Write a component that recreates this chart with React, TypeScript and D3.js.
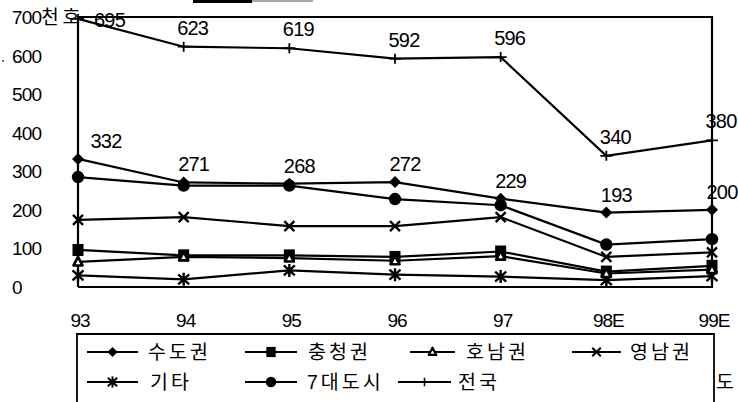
import React from "react";
import * as d3 from "d3";

// Housing supply by region, thousand units
const years = ["93", "94", "95", "96", "97", "98E", "99E"];
const capital = [332, 271, 268, 272, 229, 193, 200]; // 수도권
const chungcheong = [96, 82, 82, 78, 92, 40, 55]; // 충청권
const honam = [65, 78, 75, 68, 80, 35, 45]; // 호남권
const yeongnam = [174, 181, 158, 158, 181, 78, 90]; // 영남권
const others = [30, 20, 43, 32, 27, 18, 28]; // 기타
const sevenCities = [285, 263, 263, 228, 212, 110, 124]; // 7대도시
const nationwide = [695, 623, 619, 592, 596, 340, 380]; // 전국
const yTicks = [0, 100, 200, 300, 400, 500, 600, 700];

type MarkerKind = "diamond" | "square" | "triangle" | "times" | "asterisk" | "circle" | "plus";

interface Series {
  name: string;
  values: number[];
  marker: MarkerKind;
}

const series: Series[] = [
  { name: "전국", values: nationwide, marker: "plus" },
  { name: "기타", values: others, marker: "asterisk" },
  { name: "영남권", values: yeongnam, marker: "times" },
  { name: "7대도시", values: sevenCities, marker: "circle" },
  { name: "충청권", values: chungcheong, marker: "square" },
  { name: "호남권", values: honam, marker: "triangle" },
  { name: "수도권", values: capital, marker: "diamond" },
];

const legendRows: { name: string; marker: MarkerKind; x0: number; x1: number; tx: number }[][] = [
  [
    { name: "수도권", marker: "diamond", x0: 87, x1: 138, tx: 148 },
    { name: "충청권", marker: "square", x0: 245, x1: 297, tx: 308 },
    { name: "호남권", marker: "triangle", x0: 410, x1: 455, tx: 466 },
    { name: "영남권", marker: "times", x0: 572, x1: 621, tx: 630 },
  ],
  [
    { name: "기타", marker: "asterisk", x0: 87, x1: 138, tx: 150 },
    { name: "7대도시", marker: "circle", x0: 245, x1: 297, tx: 307 },
    { name: "전국", marker: "plus", x0: 398, x1: 451, tx: 458 },
  ],
];

const FONT = "'Liberation Sans', Arial, 'Noto Sans CJK KR', sans-serif";

function Marker({ kind, x, y, scale = 1 }: { kind: MarkerKind; x: number; y: number; scale?: number }) {
  const t = `translate(${x},${y}) scale(${scale})`;
  switch (kind) {
    case "diamond":
      return <path transform={t} d="M0,-6L6,0L0,6L-6,0Z" fill="#000" />;
    case "square":
      return <rect transform={t} x={-5.5} y={-6} width={11} height={12} fill="#000" />;
    case "triangle":
      return (
        <path transform={t} d="M0,-5L4.5,3.5L-4.5,3.5Z" fill="#fff" stroke="#000" strokeWidth={2.6} strokeLinejoin="round" />
      );
    case "times":
      return <path transform={t} d="M-5,-5L5,5M5,-5L-5,5" stroke="#000" strokeWidth={2.4} />;
    case "asterisk":
      return (
        <path transform={t} d="M-5.5,-5L5.5,5M5.5,-5L-5.5,5M0,-6.5V6.5" stroke="#000" strokeWidth={2.4} />
      );
    case "circle":
      return <circle transform={t} r={6.2} fill="#000" />;
    case "plus":
      return <path transform={t} d="M-6,0H6M0,-5V5" stroke="#000" strokeWidth={1.8} />;
  }
}

export default function App() {
  const width = 738;
  const height = 402;

  const x = d3.scalePoint<string>().domain(years).range([78, 712]);
  const y = d3.scaleLinear().domain([0, 700]).range([287, 17]);

  const line = d3
    .line<number>()
    .x((_, i) => x(years[i]) as number)
    .y((d) => y(d));

  const x0 = x(years[0]) as number;
  const x1 = x(years[years.length - 1]) as number;

  return (
    <svg
      width={width}
      height={height}
      viewBox={`0 0 ${width} ${height}`}
      style={{ position: "absolute", left: 0, top: 0, background: "#fff" }}
      fontFamily={FONT}
    >
      <rect width={width} height={height} fill="#fff" />

      {/* stray rule at the top edge */}
      <line x1={193} x2={252} y1={1.5} y2={1.5} stroke="#000" strokeWidth={3} />
      <line x1={252} x2={313} y1={1} y2={1} stroke="#555" strokeWidth={1} />
      <circle cx={3} cy={61} r={1} fill="#444" />

      {/* plot frame */}
      <path
        d={`M${x0},${y(0)}V${y(700)}H${x1}V${y(0)}H${x0}`}
        fill="none"
        stroke="#000"
        strokeWidth={2.2}
      />

      {/* y tick labels */}
      {yTicks.map((t) => (
        <text key={t} x={12} y={y(t) + 7} fontSize={19} fill="#000" letterSpacing={-0.8}>
          {t === 700 ? "700천 호" : t}
        </text>
      ))}

      {/* x tick labels */}
      {years.map((yr) => (
        <text key={yr} x={(x(yr) as number) + 2} y={327} fontSize={19} textAnchor="middle" fill="#000" letterSpacing={-1}>
          {yr}
        </text>
      ))}

      {/* series lines */}
      {series.map((s) => (
        <path key={s.name} d={line(s.values) || ""} fill="none" stroke="#000" strokeWidth={2.2} />
      ))}

      {/* markers */}
      {series.map((s) =>
        s.values.map((v, i) => <Marker key={s.name + i} kind={s.marker} x={x(years[i]) as number} y={y(v)} />)
      )}

      {/* value labels: 전국 */}
      {nationwide.map((v, i) => {
        const px = x(years[i]) as number;
        const first = i === 0;
        return (
          <text
            key={"n" + i}
            x={first ? px + 16 : px + 9}
            y={first ? y(v) + 8 : y(v) - 12}
            fontSize={20}
            textAnchor={first ? "start" : "middle"}
            fill="#000"
            letterSpacing={-0.8}
          >
            {v}
          </text>
        );
      })}

      {/* value labels: 수도권 */}
      {capital.map((v, i) => {
        const px = x(years[i]) as number;
        const first = i === 0;
        return (
          <text
            key={"c" + i}
            x={first ? px + 28 : px + 10}
            y={y(v) - 11}
            fontSize={20}
            textAnchor="middle"
            fill="#000"
            letterSpacing={-0.8}
          >
            {v}
          </text>
        );
      })}

      {/* legend box */}
      <path d="M77,402V334H714V402" fill="none" stroke="#000" strokeWidth={1.8} />
      {legendRows.map((row, r) =>
        row.map((item) => {
          const cy = r === 0 ? 352 : 382;
          const mx = (item.x0 + item.x1) / 2;
          return (
            <g key={item.name}>
              <line x1={item.x0} x2={item.x1} y1={cy} y2={cy} stroke="#000" strokeWidth={1.8} />
              <Marker kind={item.marker} x={mx} y={cy} scale={0.85} />
              <text x={item.tx} y={cy + 7} fontSize={19.5} letterSpacing={3} fill="#000">
                {item.name}
              </text>
            </g>
          );
        })
      )}
      <text x={716} y={389} fontSize={19.5} fill="#000">
        도
      </text>
    </svg>
  );
}
